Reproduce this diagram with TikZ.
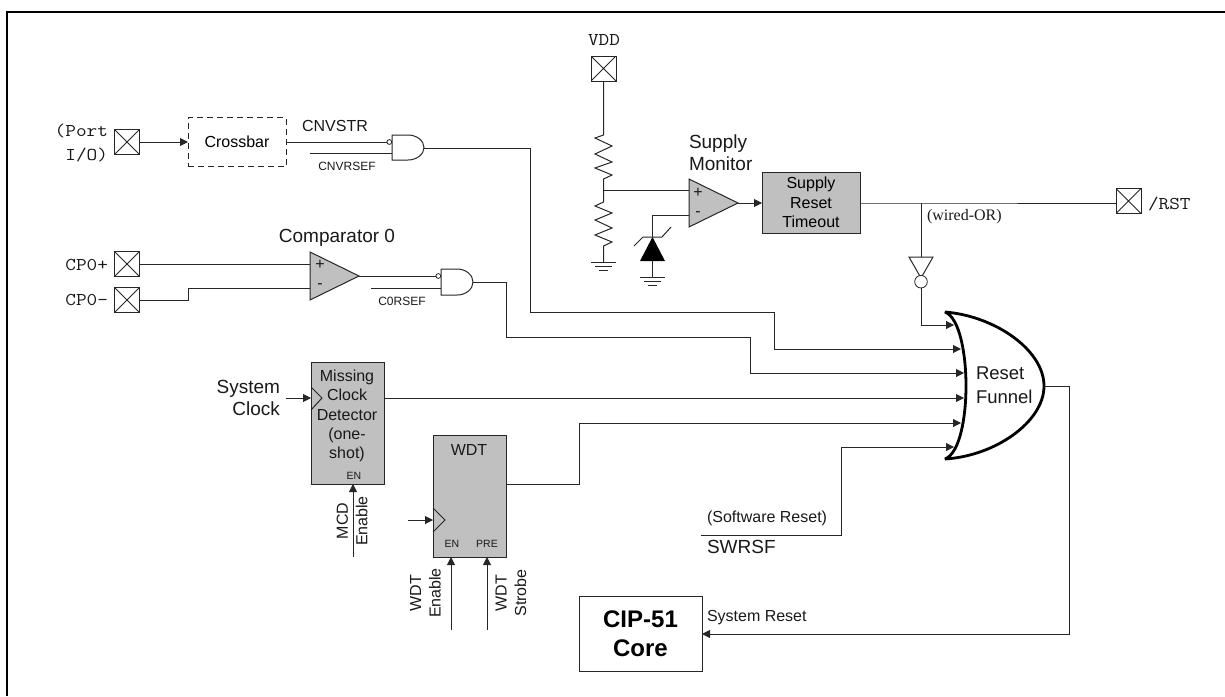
\documentclass[tikz,border=0pt]{standalone}
\usepackage{fontspec}
\setmainfont{Liberation Sans}
\newfontfamily\monofam[FakeStretch=1.15]{Latin Modern Mono}
\newfontfamily\timesfont{Liberation Serif}
\usetikzlibrary{arrows.meta}
\definecolor{blockgray}{RGB}{192,192,192}
\newcommand{\fs}[1]{\fontsize{#1}{#1}\selectfont}
\tikzset{
  wire/.style={line width=1pt,draw=black!85,line join=miter},
  arrowwire/.style={wire,-{Triangle[length=8pt,width=8pt]}},
  padbox/.style={draw=black!85,line width=1pt,minimum width=25pt,minimum height=25pt,inner sep=0pt,outer sep=0pt,
    path picture={\draw[line width=0.8pt,black!85] (path picture bounding box.north west)--(path picture bounding box.south east)
      (path picture bounding box.north east)--(path picture bounding box.south west);}},
  graybox/.style={draw=black!85,line width=1pt,fill=blockgray,inner sep=0pt,outer sep=0pt},
  whitebox/.style={draw=black!85,line width=1pt,inner sep=0pt,outer sep=0pt},
  lbl/.style={inner sep=0pt,outer sep=0pt,text=black!90},
  amp/.style={draw=black!85,line width=1pt,fill=blockgray,line join=miter},
  gatebody/.style={draw=black!85,line width=1pt,fill=white},
  bubble/.style={draw=black!85,line width=0.8pt,fill=white},
  frameline/.style={line width=2pt,black},
}
\begin{document}
\begin{tikzpicture}[x=1pt,y=-1pt]
\useasboundingbox (0,0) rectangle (1225,696);
\draw[frameline] (7,696) -- (7,12) -- (1225,12);

% pads
\node[padbox] (portpad) at (127,142) {};
\node[padbox] (cppad) at (127,264) {};
\node[padbox] (cmpad) at (127,300) {};
\node[padbox] (vddpad) at (603.5,68.5) {};
\node[padbox] (rstpad) at (1128.5,201) {};
\node[lbl,anchor=east,align=right,font=\monofam\fs{18}] (portlbl) at (108,143) {(Port\\[6pt]I/O)};
\node[lbl,anchor=east,font=\monofam\fs{18}] (cplbl) at (108,265) {CP0+};
\node[lbl,anchor=east,font=\monofam\fs{18}] (cmlbl) at (108,300) {CP0-};
\node[lbl,font=\monofam\fs{18}] (vddlbl) at (604,40) {VDD};
\node[lbl,anchor=west,font=\monofam\fs{18}] (rstlbl) at (1148,204) {/RST};

% crossbar
\node[draw=black!85,line width=1pt,dash pattern=on 6pt off 4pt,minimum width=98pt,minimum height=49pt,inner sep=0pt,outer sep=0pt,font=\fs{16}] (crossbar) at (237,142) {Crossbar};
\draw[arrowwire] (portpad.east) -- (crossbar.west);
\node[lbl,font=\fs{16}] (cnvstr) at (335,126) {CNVSTR};
\node[lbl,font=\fs{12}] (cnvrsef) at (347,166) {CNVRSEF};

% gate 1
\coordinate (g1a) at (387,142);
\coordinate (g1b) at (392,153);
\coordinate (g1c) at (310,153);
\coordinate (g1out) at (424,148);
\draw[wire] (crossbar.east) -- (g1a);
\draw[wire] (g1c) -- (g1b);
\draw[gatebody] (392,135) -- (408,135) .. controls (417,135) and (424,141) .. (424,147.5) .. controls (424,154) and (417,160) .. (408,160) -- (392,160) -- cycle;
\draw[bubble] (389.3,142) circle[radius=2.4];

% comparator 0
\draw[amp] (310,252) -- (359,276) -- (310,300) -- cycle;
\coordinate (c0p) at (310,264);
\coordinate (c0m) at (310,288);
\coordinate (c0o) at (359,276);
\coordinate (c0k1) at (188,300);
\coordinate (c0k2) at (188,288);
\draw[wire] (cppad.east) -- (c0p);
\draw[wire] (cmpad.east) -- (c0k1) -- (c0k2) -- (c0m);
\node[lbl,font=\fs{16}] (c0plus) at (320,265) {+};
\node[lbl,font=\fs{16}] (c0minus) at (320,286) {-};
\node[lbl,font=\fs{19}] (c0lbl) at (337,238) {Comparator 0};

% gate 2
\coordinate (g2a) at (436,276);
\coordinate (g2b) at (441,288);
\coordinate (g2c) at (371,288);
\coordinate (g2out) at (473,282);
\draw[wire] (c0o) -- (g2a);
\draw[wire] (g2c) -- (g2b);
\draw[gatebody] (441,269) -- (457,269) .. controls (466,269) and (473,275) .. (473,282) .. controls (473,289) and (466,295) .. (457,295) -- (441,295) -- cycle;
\draw[bubble] (438.3,276) circle[radius=2.4];
\node[lbl,font=\fs{12}] (c0rsef) at (402,301) {C0RSEF};

% reset funnel
\draw[line width=2.8pt,black,fill=white,line join=miter,miter limit=2] (945,312)
  .. controls (995,316) and (1044,350) .. (1044,386)
  .. controls (1044,422) and (995,456) .. (945,459)
  .. controls (960,453) and (966,417) .. (966,386)
  .. controls (966,355) and (960,318) .. (945,312) -- cycle;
\node[lbl,anchor=west,align=left,font=\fs{18.5}] (funnel) at (976,385.5) {Reset\\[5.5pt]Funnel};

% funnel inputs
\coordinate (f1) at (954,325);
\coordinate (f2) at (961,349);
\coordinate (f3) at (964,373);
\coordinate (f4) at (964,398);
\coordinate (f5) at (961,423);
\coordinate (f6) at (954,447);
\coordinate (fo) at (1044,386);
\coordinate (g1k1) at (530,148);
\coordinate (g1k2) at (530,312);
\coordinate (g1k3) at (774,312);
\coordinate (g1k4) at (774,349);
\draw[arrowwire] (g1out) -- (g1k1) -- (g1k2) -- (g1k3) -- (g1k4) -- (f2);
\coordinate (g2k1) at (506,282);
\coordinate (g2k2) at (506,337);
\coordinate (g2k3) at (750,337);
\coordinate (g2k4) at (750,373);
\draw[arrowwire] (g2out) -- (g2k1) -- (g2k2) -- (g2k3) -- (g2k4) -- (f3);

% MCD
\node[graybox,minimum width=73pt,minimum height=122pt] (mcd) at (347.5,423) {};
\node[lbl,align=center,font=\fs{16}] (mcdtxt) at (347,416) {Missing\\[3.2pt]Clock\\[3.2pt]Detector\\[3.2pt](one-\\[3.2pt]shot)};
\node[lbl,font=\fs{10.5}] (mcden) at (354,476) {EN};
\draw[wire] (311,387) -- (322,398) -- (311,410);
\coordinate (mcdclk) at (311,398);
\coordinate (mcdclkin) at (286,398);
\coordinate (mcdout) at (384,398);
\draw[arrowwire] (mcdclkin) -- (mcdclk);
\draw[arrowwire] (mcdout) -- (f4);
\node[lbl,anchor=east,align=right,font=\fs{19}] (sysclk) at (280,398) {System\\[3pt]Clock};
\coordinate (mcdenin) at (353,557);
\draw[arrowwire] (mcdenin) -- (mcdenin |- mcd.south);
\node[lbl,rotate=90,align=center,font=\fs{16}] (mcdenlbl) at (352,521) {MCD\\[3.5pt]Enable};

% WDT
\node[graybox,minimum width=73pt,minimum height=122pt] (wdt) at (469.5,496) {};
\node[lbl,font=\fs{16}] (wdttxt) at (469,450) {WDT};
\node[lbl,font=\fs{10.5}] (wdten) at (452,544) {EN};
\node[lbl,font=\fs{10.5}] (wdtpre) at (487,544) {PRE};
\draw[wire] (433,508) -- (445,520) -- (433,532);
\coordinate (wdtclk) at (433,520);
\coordinate (wdtclkin) at (408,520);
\draw[arrowwire] (wdtclkin) -- (wdtclk);
\coordinate (wdtenin) at (451,630);
\coordinate (wdtprein) at (487,630);
\draw[arrowwire] (wdtenin) -- (wdtenin |- wdt.south);
\draw[arrowwire] (wdtprein) -- (wdtprein |- wdt.south);
\node[lbl,rotate=90,align=center,font=\fs{16}] (wdtenlbl) at (425.5,593) {WDT\\[3.5pt]Enable};
\node[lbl,rotate=90,align=center,font=\fs{16}] (wdtstlbl) at (511,593) {WDT\\[3.5pt]Strobe};
\coordinate (wdtout) at (506,484);
\coordinate (wk1) at (579,484);
\coordinate (wk2) at (579,423);
\draw[arrowwire] (wdtout) -- (wk1) -- (wk2) -- (f5);

% software reset
\coordinate (sw0) at (701,535);
\coordinate (sw1) at (841,535);
\coordinate (sw2) at (841,447);
\draw[arrowwire] (sw0) -- (sw1) -- (sw2) -- (f6);
\node[lbl,anchor=west,font=\fs{16}] (swlbl) at (707,518) {(Software Reset)};
\node[lbl,anchor=west,font=\fs{19}] (swrsf) at (707,547) {SWRSF};

% CIP-51
\node[whitebox,minimum width=123pt,minimum height=75pt,align=center,font=\bfseries\fs{24}] (cip) at (640.5,633.5) {CIP-51\\[5pt]Core};
\coordinate (rk1) at (1069,386);
\coordinate (rk2) at (1069,634);
\draw[arrowwire] (fo) -- (rk1) -- (rk2) -- (cip.east |- rk2);
\node[lbl,anchor=west,font=\fs{16}] (sysrst) at (707,618) {System Reset};

% supply chain
\coordinate (r1t) at (603.5,135);
\coordinate (r1b) at (603.5,179);
\coordinate (junc) at (603.5,190);
\coordinate (r2t) at (603.5,202);
\coordinate (r2b) at (603.5,246);
\coordinate (gnd1) at (603.5,262);
\draw[wire] (vddpad.south) -- (r1t) -- (595,138) -- (612,146) -- (595,154) -- (612,162) -- (595,168) -- (612,175) -- (r1b) -- (junc) -- (r2t) -- (595,206) -- (612,213) -- (595,220) -- (612,228) -- (595,235) -- (612,242) -- (r2b) -- (gnd1);
\draw[wire] (591,262) -- (616,262) (595,266) -- (612,266) (599,270) -- (608,270);

\draw[amp] (689,179) -- (738,203) -- (689,227) -- cycle;
\coordinate (smp) at (689,190);
\coordinate (smm) at (689,215);
\coordinate (smo) at (738,203);
\coordinate (zk) at (652.5,215);
\coordinate (zc) at (652.5,237);
\coordinate (za) at (652.5,261);
\coordinate (gnd2) at (652.5,277);
\draw[wire] (junc) -- (smp);
\draw[wire] (smm) -- (zk) -- (zc);
\draw[wire] (za) -- (gnd2);
\draw[wire] (640,277) -- (665,277) (644,281) -- (661,281) (648,285) -- (657,285);
\fill[black] (zc) -- (665,261) -- (640,261) -- cycle;
\draw[wire] (634,246) -- (643,237) -- (662,237) -- (671,227);
\node[lbl,font=\fs{16}] (smplus) at (698,193) {+};
\node[lbl,font=\fs{16}] (smminus) at (698,214) {-};
\node[lbl,anchor=west,align=left,font=\fs{19}] (smlbl) at (689,153) {Supply\\[3pt]Monitor};

\node[graybox,minimum width=98pt,minimum height=61pt,align=center,font=\fs{16}] (timeout) at (811,202.5) {Supply\\[3.5pt]Reset\\[3.5pt]Timeout};
\draw[arrowwire] (smo) -- (timeout.west |- smo);
\coordinate (wj) at (921,203);
\draw[wire] (timeout.east |- wj) -- (wj) -- (rstpad.west |- wj);
\node[lbl,anchor=west,font=\timesfont\fs{16}] (wired) at (927,217) {(wired-OR)};

% inverter
\coordinate (invin) at (921,257);
\coordinate (invout) at (921,288);
\coordinate (fk) at (921,325);
\draw[wire] (wj) -- (invin);
\draw[gatebody] (909,257) -- (933,257) -- (921,278) -- cycle;
\draw[bubble] (921,281.7) circle[radius=6.3];
\draw[arrowwire] (invout) -- (fk) -- (f1);
\end{tikzpicture}
\end{document}
